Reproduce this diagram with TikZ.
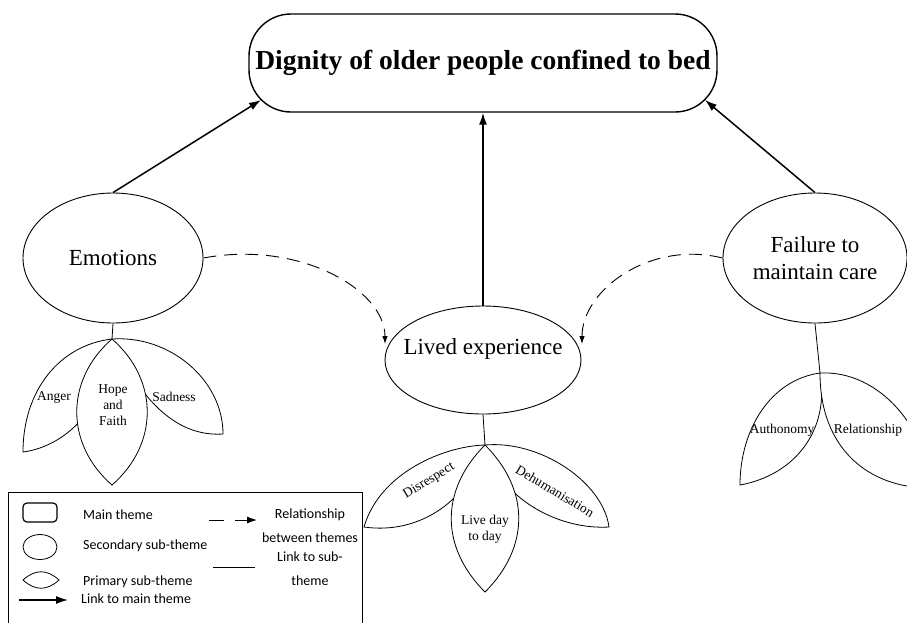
\documentclass[tikz,border=0pt]{standalone}
\usepackage{fontspec}
\setmainfont{Liberation Serif}
\newfontfamily\legendfont{Carlito}
\usetikzlibrary{arrows.meta,shapes.geometric}
\begin{document}
\begin{tikzpicture}[x=1pt,y=-1pt,
 ell/.style={draw,ellipse,inner sep=0pt,line width=0.9pt},
 big/.style={font=\fontsize{23}{27}\selectfont,inner sep=0pt},
 small/.style={font=\fontsize{13.5}{16}\selectfont,inner sep=0pt,align=center},
 leg/.style={font=\legendfont\fontsize{14}{24}\selectfont,inner sep=0pt},
 petal/.style={draw,fill=white,line width=0.8pt},
 mainarrow/.style={line width=1.5pt,-{Latex[length=12pt,width=8pt]}},
 relarrow/.style={line width=0.9pt,dash pattern=on 13pt off 8pt,-{Latex[length=8pt,width=5.5pt]}},
 link/.style={line width=0.8pt}]
\useasboundingbox (0,0) rectangle (907,622);
\clip (0,0) rectangle (907,622);

% main theme
\node[draw,rounded corners=42pt,minimum width=468pt,minimum height=98pt,line width=1.4pt,
  font=\bfseries\fontsize{27.5}{32}\selectfont] (main) at (483,63) {Dignity of older people confined to bed};

% secondary sub-themes
\node[ell,minimum width=180pt,minimum height=130pt] (emo) at (113,258) {};
\node[big] (emotext) at (113,258) {Emotions};
\node[ell,minimum width=196pt,minimum height=108pt] (lived) at (483,360) {};
\node[big] (livedtext) at (483,349) {Lived experience};
\node[ell,minimum width=184pt,minimum height=130pt] (fail) at (815,258) {};
\node[big,align=center,font=\fontsize{23}{27}\selectfont] (failtext) at (815,258) {Failure to\\maintain care};

% links to main theme
\coordinate (mainL) at (261,100);
\coordinate (mainR) at (705,100);
\draw[mainarrow] (emo.north) -- (mainL);
\draw[mainarrow] (lived.north) -- (main.south);
\draw[mainarrow] (fail.north) -- (mainR);

% relationships between themes
\coordinate (dl) at (385,344);
\coordinate (dr) at (582,344);
\draw[relarrow] (emo.east) .. controls (300,240) and (385,290) .. (dl);
\draw[relarrow] (fail.west) .. controls (650,240) and (582,290) .. (dr);

% Emotions primary sub-themes
\coordinate (ep) at (112,339);
\draw[link] (emo.south) -- (ep);
\draw[petal] (ep) .. controls (60,345) and (23,390) .. (23,452) .. controls (55,448) and (105,420) .. (ep);
\draw[petal] (ep) .. controls (170,335) and (223,380) .. (223,434) .. controls (190,436) and (150,420) .. (ep);
\draw[petal] (ep) .. controls (65,380) and (65,444) .. (112,485) .. controls (159,444) and (159,380) .. (ep);
\node[small] (anger) at (54,397) {Anger};
\node[small] (sad) at (174,397) {Sadness};
\node[small] (hope) at (113,405) {Hope\\and\\Faith};

% Lived experience primary sub-themes
\coordinate (lp) at (485,445);
\draw[link] (lived.south) -- (lp);
\draw[petal] (lp) .. controls (445,446) and (380,472) .. (364,527) .. controls (420,535) and (470,500) .. (lp);
\draw[petal] (lp) .. controls (540,440) and (603,482) .. (609,527) .. controls (560,530) and (500,500) .. (lp);
\draw[petal] (lp) .. controls (440,490) and (440,547) .. (485,592) .. controls (530,547) and (530,490) .. (lp);
\node[small,rotate=31] (disr) at (429,481) {Disrespect};
\node[small,rotate=-31] (dehum) at (555,491) {Dehumanisation};
\node[small] (live) at (485,529) {Live day\\to day};

% Failure primary sub-themes
\coordinate (fp) at (820,373);
\draw[link] (fail.south) -- (fp);
\draw[petal] (fp) .. controls (770,380) and (740,430) .. (740,485) .. controls (795,475) and (830,430) .. (fp);
\draw[petal] (fp) .. controls (880,370) and (928,430) .. (930,488) .. controls (870,488) and (820,450) .. (fp);
\node[small] (auth) at (782,430) {Authonomy};
\node[small] (rel) at (868,430) {Relationship};

% legend
\draw[line width=0.9pt] (8,492) rectangle (362,640);
\draw[line width=1.2pt,rounded corners=4pt] (23,503) rectangle (57,522);
\node[leg,anchor=west] (l1) at (83,515) {Main theme};
\node[draw,ellipse,minimum width=34pt,minimum height=25pt,inner sep=0pt,line width=0.8pt] (lell) at (40,547) {};
\node[leg,anchor=west] (l2) at (83,546) {Secondary sub-theme};
\draw[line width=0.8pt] (23,580) .. controls (35,569) and (47,569) .. (59,580) .. controls (47,591) and (35,591) .. (23,580);
\node[leg,anchor=west] (l3) at (83,582) {Primary sub-theme};
\coordinate (la1) at (19,600);
\coordinate (la2) at (68,600);
\draw[mainarrow] (la1) -- (la2);
\node[leg,anchor=west] (l4) at (81,599) {Link to main theme};
\coordinate (ld1) at (209,520);
\coordinate (ld2) at (224,520);
\coordinate (ld3) at (235,520);
\coordinate (ld4) at (257,520);
\draw[line width=1pt] (ld1) -- (ld2);
\draw[line width=1pt,-{Latex[length=10pt,width=7pt]}] (ld3) -- (ld4);
\node[leg,align=center] (l5) at (310,526) {Relationship\\between themes};
\coordinate (ll1) at (213,567);
\coordinate (ll2) at (255,567);
\draw[line width=0.8pt] (ll1) -- (ll2);
\node[leg,align=center] (l6) at (310,569) {Link to sub-\\theme};
\end{tikzpicture}
\end{document}
